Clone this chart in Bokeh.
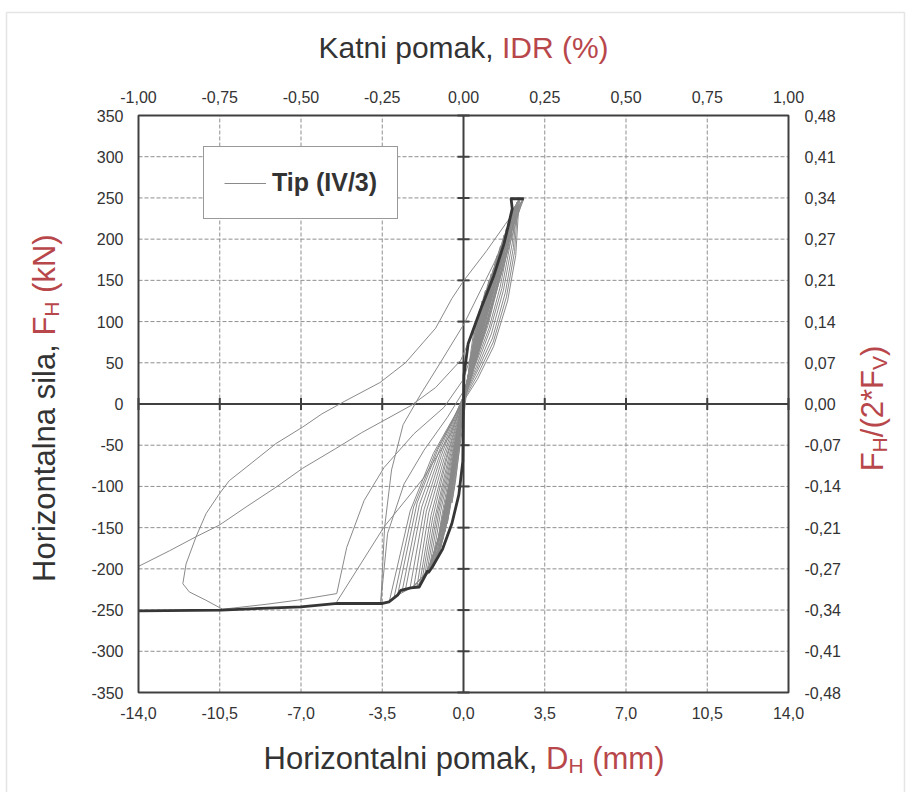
from math import pi
from bokeh.plotting import figure
from bokeh.models import (Range1d, LinearAxis, FixedTicker, Label, BoxAnnotation,
                          Legend, LegendItem, ColumnDataSource)
from bokeh.core.properties import value
from bokeh.embed import file_html
from bokeh.resources import INLINE

# ---------------- axis ticks / labels ----------------
x_ticks = [-14.0, -10.5, -7.0, -3.5, 0.0, 3.5, 7.0, 10.5, 14.0]
x_labels = ["-14,0", "-10,5", "-7,0", "-3,5", "0,0", "3,5", "7,0", "10,5", "14,0"]
idr_labels = ["-1,00", "-0,75", "-0,50", "-0,25", "0,00", "0,25", "0,50", "0,75", "1,00"]
y_ticks = [-350, -300, -250, -200, -150, -100, -50, 0, 50, 100, 150, 200, 250, 300, 350]
y_labels = ["-350", "-300", "-250", "-200", "-150", "-100", "-50", "0",
            "50", "100", "150", "200", "250", "300", "350"]
ratio_labels = ["-0,48", "-0,41", "-0,34", "-0,27", "-0,21", "-0,14", "-0,07", "0,00",
                "0,07", "0,14", "0,21", "0,27", "0,34", "0,41", "0,48"]

# ---------------- data: envelope (thick) ----------------
env_x = [2.60, 2.05, 2.10, 1.96, 1.74, 1.31, 0.74, 0.20, 0.02, 0.00, -0.03, -0.20, -0.50,
         -0.90, -1.35, -1.50, -1.56, -1.72, -1.91, -2.27, -2.70, -2.84, -3.21, -3.49,
         -5.43, -7.00, -10.45, -14.00]
env_y = [249, 249, 237, 220, 194, 156, 115, 73, 35, 0, -70, -110, -145,
         -176, -198, -204, -203, -212, -222, -223, -226, -232, -240, -242,
         -242, -246, -250, -251]

# ---------------- data: large cycles (thin) ----------------
big1_x = [2.60, 1.80, 1.00, 0.02, -0.50, -1.20, -2.50, -3.60, -5.14, -6.10, -6.93, -8.08,
          -9.37, -10.09, -10.52, -11.09, -11.52, -11.95, -12.09, -11.81, -11.10, -10.38,
          -8.50, -7.16, -5.46, -5.03, -4.28, -3.42, -2.13, -0.84, 0.00, 0.90, 1.70, 2.50]
big1_y = [249, 218, 186, 150, 128, 92, 50, 26, 3, -12, -28, -48,
          -77, -93, -109, -133, -161, -194, -218, -228, -238, -249,
          -243, -238, -230, -174, -117, -77, -36, -4, 30, 110, 180, 246]
big2_x = [-14.00, -12.66, -11.52, -10.52, -9.37, -8.08, -6.93, -5.50, -4.40, -3.56, -2.27,
          -1.20, -0.12, 0.60, 1.40, 2.00, 2.60]
big2_y = [-197, -178, -161, -147, -125, -101, -78, -54, -35, -22, -2,
          20, 53, 100, 160, 205, 249]
mid1_x = [-5.46, -3.42, -1.70, -0.55, 0.20, 1.00, 1.80, 2.55]
mid1_y = [-240, -149, -89, -36, 20, 95, 175, 249]
mid2_x = [-3.56, -3.27, -2.56, -1.70, -0.69, 0.10, 0.90, 1.70, 2.45]
mid2_y = [-240, -157, -97, -56, -16, 20, 90, 170, 249]
mid3_x = [2.55, 1.30, 0.02, -1.00, -1.84, -2.60, -3.10, -3.40, -3.56]
mid3_y = [249, 170, 97, 50, 12, -25, -80, -150, -240]

# ---------------- data: small cycles, reloading branches ----------------
reload_x = [
    [-3.20, -2.30, -1.30, -0.30, 0.60, 1.30, 1.90, 2.25, 2.40],
    [-3.00, -2.15, -1.20, -0.25, 0.60, 1.28, 1.85, 2.20, 2.35],
    [-2.84, -2.00, -1.10, -0.20, 0.60, 1.25, 1.80, 2.15, 2.30],
    [-2.65, -1.90, -1.05, -0.18, 0.57, 1.20, 1.72, 2.10, 2.25],
    [-2.50, -1.80, -1.00, -0.15, 0.55, 1.15, 1.65, 2.05, 2.20],
    [-2.30, -1.70, -0.95, -0.12, 0.52, 1.10, 1.58, 1.98, 2.15],
    [-2.14, -1.60, -0.90, -0.10, 0.50, 1.05, 1.50, 1.90, 2.10],
    [-2.00, -1.50, -0.82, -0.08, 0.47, 1.00, 1.45, 1.82, 2.02],
    [-1.90, -1.40, -0.75, -0.05, 0.45, 0.95, 1.40, 1.75, 1.95],
    [-1.80, -1.32, -0.68, -0.02, 0.45, 0.92, 1.35, 1.68, 1.85],
    [-1.70, -1.25, -0.60, 0.00, 0.45, 0.90, 1.30, 1.60, 1.75],
    [-1.60, -1.15, -0.55, 0.00, 0.42, 0.85, 1.25, 1.52, 1.60],
    [-1.50, -1.05, -0.50, 0.00, 0.40, 0.80, 1.20, 1.45],
    [-1.40, -0.98, -0.45, 0.00, 0.38, 0.75, 1.12, 1.38],
    [-1.30, -0.90, -0.40, 0.00, 0.35, 0.70, 1.05, 1.30],
    [-1.20, -0.80, -0.35, 0.00, 0.32, 0.65, 0.98, 1.20],
    [-1.10, -0.70, -0.30, 0.00, 0.30, 0.60, 0.90, 1.10],
    [-1.00, -0.62, -0.25, 0.02, 0.30, 0.58, 0.85, 0.95],
    [-0.90, -0.55, -0.20, 0.05, 0.30, 0.55, 0.80],
    [-0.80, -0.48, -0.15, 0.08, 0.30, 0.52, 0.70],
    [-0.70, -0.40, -0.10, 0.10, 0.30, 0.50, 0.60],
    [-0.50, -0.25, 0.00, 0.15, 0.30, 0.45],
]
reload_y = [
    [-240, -130, -60, -10, 30, 70, 125, 180, 249],
    [-236, -125, -58, -8, 35, 75, 130, 185, 247],
    [-232, -120, -55, -5, 40, 80, 135, 190, 245],
    [-228, -122, -57, -2, 42, 85, 138, 195, 242],
    [-225, -125, -60, 0, 45, 90, 140, 200, 240],
    [-223, -128, -62, 0, 48, 92, 142, 200, 238],
    [-222, -130, -65, 0, 50, 95, 145, 200, 235],
    [-221, -132, -65, 0, 50, 97, 147, 197, 228],
    [-220, -135, -65, 0, 50, 100, 150, 195, 222],
    [-216, -137, -62, 0, 52, 102, 152, 192, 213],
    [-212, -140, -60, 0, 55, 105, 155, 190, 205],
    [-208, -135, -60, 0, 55, 105, 152, 185, 192],
    [-204, -130, -60, 0, 55, 105, 150, 180],
    [-201, -130, -58, 0, 55, 102, 145, 172],
    [-198, -130, -55, 0, 55, 100, 140, 165],
    [-192, -125, -52, 0, 52, 97, 135, 158],
    [-185, -120, -50, 0, 50, 95, 130, 150],
    [-175, -112, -45, 3, 50, 92, 128, 138],
    [-165, -105, -40, 5, 50, 90, 125],
    [-155, -98, -35, 10, 52, 90, 115],
    [-145, -90, -30, 15, 55, 90, 105],
    [-120, -70, -20, 20, 60, 90],
]

# ---------------- data: small cycles, unloading branches ----------------
unload_x = [
    [2.40, 1.75, 1.05, 0.45, 0.00, -0.45, -1.00, -1.60, -2.20, -2.84],
    [2.35, 1.70, 1.00, 0.42, -0.02, -0.50, -1.02, -1.55, -2.17, -2.65],
    [2.30, 1.65, 0.95, 0.40, -0.05, -0.55, -1.05, -1.50, -2.14],
    [2.25, 1.60, 0.92, 0.38, -0.07, -0.57, -1.08, -1.50, -2.00, -2.30],
    [2.20, 1.55, 0.90, 0.35, -0.10, -0.60, -1.10, -1.50, -1.90],
    [2.15, 1.50, 0.85, 0.32, -0.10, -0.55, -1.02, -1.40, -1.80, -2.00],
    [2.10, 1.45, 0.80, 0.30, -0.10, -0.50, -0.95, -1.30, -1.70],
    [2.02, 1.40, 0.78, 0.30, -0.08, -0.48, -0.90, -1.20, -1.60, -1.80],
    [1.95, 1.35, 0.75, 0.30, -0.05, -0.45, -0.85, -1.10, -1.50],
    [1.85, 1.28, 0.72, 0.28, -0.05, -0.42, -0.78, -1.05, -1.40, -1.60],
    [1.75, 1.20, 0.70, 0.25, -0.05, -0.40, -0.70, -1.00, -1.30],
    [1.60, 1.10, 0.65, 0.22, -0.05, -0.38, -0.72, -1.00, -1.40],
    [1.45, 1.00, 0.60, 0.20, -0.05, -0.35, -0.70, -1.10],
    [1.38, 0.95, 0.55, 0.20, -0.05, -0.32, -0.65, -0.95, -1.20],
    [1.30, 0.90, 0.50, 0.20, -0.05, -0.30, -0.60, -0.90],
    [1.20, 0.82, 0.48, 0.18, -0.05, -0.28, -0.55, -0.80, -1.00],
    [1.10, 0.75, 0.45, 0.15, -0.05, -0.25, -0.50, -0.70],
    [0.95, 0.65, 0.38, 0.12, -0.05, -0.22, -0.42, -0.60, -0.80],
    [0.80, 0.55, 0.30, 0.10, -0.05, -0.20, -0.35, -0.50],
]
unload_y = [
    [249, 170, 100, 45, 0, -90, -160, -205, -222, -232],
    [247, 170, 100, 45, 0, -92, -160, -203, -222, -228],
    [245, 170, 100, 45, 0, -95, -160, -200, -222],
    [242, 168, 100, 45, 0, -95, -162, -202, -221, -223],
    [240, 165, 100, 45, 0, -95, -165, -204, -220],
    [238, 162, 97, 45, 0, -88, -157, -197, -216, -221],
    [235, 160, 95, 45, 0, -80, -150, -190, -212],
    [228, 155, 92, 45, 0, -80, -147, -185, -208, -216],
    [222, 150, 90, 45, 0, -80, -145, -180, -204],
    [213, 145, 88, 42, 0, -78, -138, -175, -201, -208],
    [205, 140, 85, 40, 0, -75, -130, -170, -198],
    [192, 130, 80, 37, 0, -72, -137, -178, -201],
    [180, 120, 75, 35, 0, -70, -135, -185],
    [172, 115, 70, 32, 0, -65, -125, -170, -192],
    [165, 110, 65, 30, 0, -60, -120, -165],
    [158, 102, 62, 28, 0, -55, -115, -155, -175],
    [150, 95, 60, 25, 0, -50, -110, -145],
    [138, 88, 52, 20, -5, -55, -100, -130, -155],
    [125, 80, 45, 15, -10, -60, -95, -120],
]

series_label = "Tip (IV/3)"

# ---------------- styling / layout ----------------
DARK = "#333333"
RED = "#B8474B"
FONT = "Liberation Sans"
THIN = "#8a8a8a"
AXC = "#404040"
W, H = 911, 792
BOX_L, BOX_R, BOX_T, BOX_B = 138, 788, 115, 692     # plot box on the canvas (px)
X0, X1 = x_ticks[0], x_ticks[-1]
Y0, Y1 = y_ticks[0], y_ticks[-1]
SX = (BOX_R - BOX_L) / (X1 - X0)
SY = (BOX_B - BOX_T) / (Y1 - Y0)
XA, XB = X0 - BOX_L / SX, X1 + (W - BOX_R) / SX
YA, YB = Y0 - (H - BOX_B) / SY, Y1 + BOX_T / SY


def dx(px):
    return XA + px / SX


def dy(py):
    return YB - py / SY


p = figure(width=W, height=H, x_range=Range1d(XA, XB), y_range=Range1d(YA, YB),
           output_backend="svg", toolbar_location=None,
           x_axis_location=None, y_axis_location=None, min_border=0)
p.background_fill_color = "white"
p.border_fill_color = "white"
p.outline_line_color = None
for g in p.grid:
    g.visible = False
    g.grid_line_color = None


def make_axis(ticks, labels, loc, standoff):
    ax = LinearAxis(ticker=FixedTicker(ticks=ticks),
                    major_label_overrides=dict(zip(ticks, labels)),
                    fixed_location=loc)
    ax.axis_line_color = None
    ax.major_tick_line_color = None
    ax.minor_tick_line_color = None
    ax.major_tick_in = 0
    ax.major_tick_out = 0
    ax.major_label_standoff = standoff
    ax.major_label_text_font = FONT
    ax.major_label_text_font_size = "16px"
    ax.major_label_text_color = DARK
    return ax


p.add_layout(make_axis(x_ticks, x_labels, Y0, 14), "below")
p.add_layout(make_axis(x_ticks, idr_labels, Y1, 13), "above")
p.add_layout(make_axis(y_ticks, y_labels, X0, 15), "left")
yr = make_axis(y_ticks, ratio_labels, X1, 16)
yr.major_label_text_align = "left"
p.add_layout(yr, "right")

# outer light border of the picture
p.add_layout(BoxAnnotation(left=dx(6), right=dx(904), top=dy(12), bottom=dy(820),
                           fill_alpha=0, line_color="#a8a8a8", line_width=1.5))

nx, ny = len(x_ticks), len(y_ticks)
# dashed grid
p.segment(x0=x_ticks, y0=[Y0] * nx, x1=x_ticks, y1=[Y1] * nx,
          line_color="#8f8f8f", line_dash="4 2", line_width=1)
p.segment(x0=[X0] * ny, y0=y_ticks, x1=[X1] * ny, y1=y_ticks,
          line_color="#8f8f8f", line_dash="4 2", line_width=1)
# central axes with cross ticks
p.segment(x0=[X0, 0], y0=[0, Y0], x1=[X1, 0], y1=[0, Y1], line_color=AXC, line_width=2)
p.scatter(x=x_ticks, y=[0] * nx, marker="dash", size=12, angle=pi / 2,
          line_color=AXC, line_width=2)
p.scatter(x=[0] * ny, y=y_ticks, marker="dash", size=12, line_color=AXC, line_width=2)

# hysteresis curves
all_x = [big1_x, big2_x, mid1_x, mid2_x, mid3_x] + reload_x + unload_x
all_y = [big1_y, big2_y, mid1_y, mid2_y, mid3_y] + reload_y + unload_y
thin_src = ColumnDataSource(dict(xs=all_x, ys=all_y))
thin_r = p.multi_line(xs="xs", ys="ys", source=thin_src, line_color=THIN, line_width=1)
p.line(env_x, env_y, line_color="#363636", line_width=2.8, line_join="round")

# plot-area frame
p.quad(left=[X0], right=[X1], bottom=[Y0], top=[Y1], fill_color=None,
       line_color=AXC, line_width=2)

legend = Legend(items=[LegendItem(label=value(series_label), renderers=[thin_r])],
                location=(203, H - 219), label_text_font=FONT, label_text_font_style="bold",
                label_text_font_size="25px", label_text_color=DARK,
                glyph_width=42, glyph_height=20, label_standoff=6, label_height=31,
                padding=20, margin=0, spacing=0,
                border_line_color=DARK, border_line_width=1,
                background_fill_color="white", background_fill_alpha=1)
p.add_layout(legend)


def txt(s, px, py, color, size, angle=0.0, style="normal"):
    p.add_layout(Label(x=dx(px), y=dy(py), text=s, text_color=color, text_font=FONT,
                       text_font_size=size, text_font_style=style, angle=angle,
                       text_align="left", text_baseline="middle"))


# top title
txt("Katni pomak,", 318, 47, DARK, "30px")
txt("IDR (%)", 501.4, 47, RED, "30px")
# bottom title
txt("Horizontalni pomak,", 263, 758, DARK, "31px")
txt("D", 545.5, 758, RED, "31px")
txt("H", 567.9, 765, RED, "21px")
txt("(mm)", 591.7, 758, RED, "31px")
# left title (rotated)
txt("Horizontalna sila,", 44, 581.5, DARK, "31px", pi / 2)
txt("F", 44, 335.1, RED, "31px", pi / 2)
txt("H", 51, 316.2, RED, "21px", pi / 2)
txt("(kN)", 44, 292.4, RED, "31px", pi / 2)
# right title (rotated)
txt("F", 872, 470.8, RED, "31px", pi / 2)
txt("H", 879, 451.9, RED, "21px", pi / 2)
txt("/(2*F", 872, 436.7, RED, "31px", pi / 2)
txt("V", 879, 369.5, RED, "21px", pi / 2)
txt(")", 872, 355.5, RED, "31px", pi / 2)

open("out.html", "w").write(file_html(p, INLINE))
